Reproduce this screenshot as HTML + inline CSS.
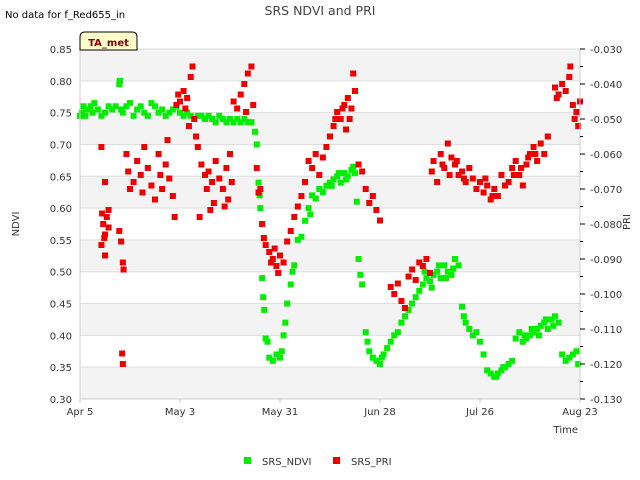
<!DOCTYPE html>
<html><head><meta charset="utf-8">
<style>
html,body{margin:0;padding:0;background:#fff;}
svg{display:block;font-family:"DejaVu Sans","Liberation Sans",sans-serif;}
</style></head>
<body>
<svg id="chart" width="640" height="480" viewBox="0 0 640 480" xmlns="http://www.w3.org/2000/svg">
<text x="5" y="18" font-size="10" fill="#000">No data for f_Red655_in</text>
<text x="320" y="15" font-size="12.5" fill="#444" text-anchor="middle">SRS NDVI and PRI</text>
<g id="bands"></g>
<g id="marks"></g>
<g id="axes"></g>
<g>
<path d="M80,50 L80,37 Q80,32 85,32 L132,32 Q137,32 137,37 L137,50 Z" fill="#ffffcc" stroke="#000" stroke-width="1"/>
<text x="108.5" y="46" font-size="10" font-weight="bold" fill="#8b0000" text-anchor="middle">TA_met</text>
</g>
<text transform="translate(19,224) rotate(-90)" font-size="10" fill="#333" text-anchor="middle">NDVI</text>
<text transform="translate(630,222) rotate(-90)" font-size="10" fill="#333" text-anchor="middle">PRI</text>
<text x="578" y="433" font-size="10" fill="#333" text-anchor="end">Time</text>
<g>
<rect x="244" y="457" width="7" height="7" fill="#00ee00"/>
<text x="262" y="465" font-size="10" fill="#333">SRS_NDVI</text>
<rect x="333" y="457" width="7" height="7" fill="#ee0000"/>
<text x="351" y="465" font-size="10" fill="#333">SRS_PRI</text>
</g>
</svg>
<script>
const xTickLabels = ["Apr 5","May 3","May 31","Jun 28","Jul 26","Aug 23"];
const xTickDays = [0,28,56,84,112,140];
const leftTicks = [0.30,0.35,0.40,0.45,0.50,0.55,0.60,0.65,0.70,0.75,0.80,0.85];
const rightTicks = [-0.130,-0.120,-0.110,-0.100,-0.090,-0.080,-0.070,-0.060,-0.050,-0.040,-0.030];
const ndviDays = [0,0.5,1,1.5,2,3,3.5,4,5,6,7,8,9,10,11,11.2,11.5,12,13,14,15,16,17,18,19,20,21,22,23,24,25,26,27,28,29,30,31,32,33,34,35,36,37,38,39,40,41,42,43,44,45,46,47,48,49,49.5,50,50.3,50.5,51,51.3,51.6,52,52.5,53,54,55,56,56.5,57,57.5,58,59,59.5,60,61,62,63,64,64.5,65,66,67,68,69,70,71,72,73,74,75,76,77,77.5,78,78.5,79,80,80.5,81,82,83,84,84.5,85,86,87,88,89,90,91,92,93,94,95,96,97,98,99,100,101,102,103,104,105,106,107,107.5,108,109,110,111,112,113,114,115,116,117,118,119,120,121,122,123,124,125,126,127,128,129,130,131,132,133,134,135,136,137,138,139,139.5,70.5,72.5,74.5,76.5,96.5,98.5,100.5,102.5,104.5,116.5,118.5,124.5,126.5,128.5,130.5,132.5];
const ndviValues = [.745,.75,.76,.745,.755,.76,.75,.765,.755,.745,.75,.76,.755,.76,.795,.80,.755,.75,.76,.765,.745,.755,.76,.75,.745,.765,.76,.75,.755,.745,.75,.755,.76,.75,.745,.75,.745,.74,.745,.745,.74,.745,.74,.735,.745,.74,.735,.74,.735,.74,.735,.74,.735,.735,.72,.70,.64,.62,.60,.49,.46,.44,.395,.39,.365,.36,.37,.365,.375,.40,.42,.45,.48,.50,.51,.55,.555,.58,.60,.59,.62,.615,.63,.625,.635,.64,.645,.65,.64,.655,.65,.66,.655,.61,.52,.495,.48,.405,.39,.375,.365,.36,.355,.365,.37,.38,.39,.40,.405,.42,.43,.44,.45,.46,.47,.48,.49,.485,.495,.50,.49,.51,.50,.495,.52,.51,.445,.43,.42,.41,.40,.405,.39,.37,.345,.34,.335,.34,.345,.35,.355,.36,.395,.405,.39,.395,.40,.405,.41,.415,.42,.41,.425,.43,.42,.37,.36,.365,.37,.375,.355,.635,.655,.645,.665,.50,.475,.51,.49,.505,.335,.35,.40,.41,.40,.425,.415];
const priDays = [6,7,6.2,6.5,7,7.5,8,6,7,8,6.8,11,11.5,12,12.2,11.8,12,13,13.5,14,15,16,17,17.5,18,19,20,21,22,22.5,23,24,24.5,25,26,26.5,27,27.5,28,29,29.5,30,31,31.5,32,30.5,32.5,33,34,35,35.5,36,37,37.5,38,39,40,40.5,41,42,42.5,33.5,36.5,41.5,43,44,45,46,47,48,48.5,46.5,49.5,50,50.5,51,51.5,52,53,54,55,55.5,56,57,58,59,60,61,62,63,64,65,66,67,68,69,70,71,72,73,74,75,76,77,76.5,75.5,78,79,80,81,82,83,84,87,88,89,90,91,92,93,94,95,96,97,98,98.5,99,100,101,102,103,104,105,106,107,108,109,110,111,112,113,114,115,116,117,118,119,120,121,122,123,124,125,126,127,128,129,130,131,133,133.5,134,135,136,137,137.3,138,138.5,139,139.5,140,101.5,103.5,105.5,107.5,113.5,115.5,121.5,123.5,125.5,127.5,71.5,73.5,74.5,53.5,54.5];
const priValues = [-.058,-.068,-.077,-.080,-.083,-.078,-.076,-.086,-.089,-.081,-.084,-.082,-.085,-.091,-.093,-.117,-.120,-.060,-.065,-.070,-.068,-.062,-.066,-.071,-.058,-.064,-.069,-.073,-.060,-.066,-.070,-.063,-.056,-.067,-.072,-.078,-.046,-.043,-.045,-.042,-.047,-.044,-.038,-.035,-.050,-.052,-.055,-.058,-.063,-.066,-.070,-.065,-.068,-.074,-.062,-.067,-.070,-.075,-.064,-.060,-.068,-.078,-.076,-.073,-.045,-.047,-.043,-.040,-.037,-.035,-.046,-.048,-.064,-.071,-.070,-.080,-.084,-.086,-.088,-.090,-.092,-.094,-.089,-.091,-.085,-.082,-.078,-.075,-.072,-.068,-.062,-.064,-.060,-.066,-.061,-.058,-.055,-.052,-.048,-.050,-.046,-.044,-.047,-.042,-.037,-.050,-.063,-.065,-.070,-.074,-.072,-.076,-.079,-.098,-.100,-.097,-.102,-.104,-.095,-.093,-.096,-.091,-.092,-.090,-.094,-.065,-.062,-.068,-.060,-.064,-.057,-.061,-.063,-.066,-.065,-.068,-.064,-.067,-.070,-.068,-.071,-.069,-.073,-.070,-.072,-.066,-.069,-.068,-.064,-.062,-.066,-.069,-.063,-.060,-.058,-.062,-.057,-.060,-.055,-.041,-.044,-.043,-.040,-.042,-.038,-.035,-.046,-.050,-.048,-.052,-.045,-.063,-.066,-.062,-.067,-.067,-.072,-.066,-.064,-.061,-.060,-.050,-.047,-.053,-.091,-.087];

const X0=80,X1=580,Y0=49,Y1=399;
const xScale=d=>X0+(d/140)*(X1-X0);
const yL=v=>Y1-(v-0.30)/(0.55)*(Y1-Y0);
const yR=v=>Y1-(v+0.130)/(0.100)*(Y1-Y0);
const NS="http://www.w3.org/2000/svg";
function mk(tag,attrs,parent){const e=document.createElementNS(NS,tag);for(const k in attrs)e.setAttribute(k,attrs[k]);parent.appendChild(e);return e;}
const bands=document.getElementById('bands');
const marks=document.getElementById('marks');
const axes=document.getElementById('axes');
for(let i=0;i<leftTicks.length-1;i++){
  if(i%2===0){
    const r=mk('rect',{x:X0,y:yL(leftTicks[i+1]),width:X1-X0,height:yL(leftTicks[i])-yL(leftTicks[i+1]),fill:'#f3f3f3'},bands);
    
    
  }
}
leftTicks.forEach(v=>{
  const y=yL(v);
  const l=mk('line',{x1:X0,x2:X1,y1:y,y2:y,stroke:'#dddddd','stroke-width':1},bands);
  
  
  const t=mk('text',{x:X0-8,y:y+4,'font-size':10,fill:'#333','text-anchor':'end'},axes);
  
  
  t.textContent=v.toFixed(2);
});
mk('line',{x1:X0,x2:X0,y1:Y0,y2:Y1,stroke:'#ccc'},axes);
mk('line',{x1:X0,x2:X1,y1:Y1,y2:Y1,stroke:'#ccc'},axes);
mk('line',{x1:X1,x2:X1,y1:Y0,y2:Y1,stroke:'#ccc'},axes);
rightTicks.forEach((v,i)=>{
  const y=yR(v);
  mk('line',{x1:X1,x2:X1+5,y1:y,y2:y,stroke:'#000'},axes);
  if(i<rightTicks.length-1){const ym=yR(v+0.005);mk('line',{x1:X1,x2:X1+3,y1:ym,y2:ym,stroke:'#000'},axes);}
  const t=mk('text',{x:X1+10,y:y+4,'font-size':10,fill:'#333'},axes);
  
  
  t.textContent=v.toFixed(3);
});
xTickDays.forEach((d,i)=>{
  const x=xScale(d);
  mk('line',{x1:x,x2:x,y1:Y1,y2:Y1+4,stroke:'#ccc'},axes);
  const t=mk('text',{x:x,y:Y1+16,'font-size':10,fill:'#333','text-anchor':'middle'},axes);
  
  
  t.textContent=xTickLabels[i];
});
ndviDays.forEach((d,i)=>{
  const r=mk('rect',{x:xScale(d)-3,y:yL(ndviValues[i])-3,width:6,height:6,fill:'#00ee00'},marks);
  
  
});
priDays.forEach((d,i)=>{
  const r=mk('rect',{x:xScale(d)-3,y:yR(priValues[i])-3,width:6,height:6,fill:'#ee0000'},marks);
  
  
});
</script>
</body></html>
